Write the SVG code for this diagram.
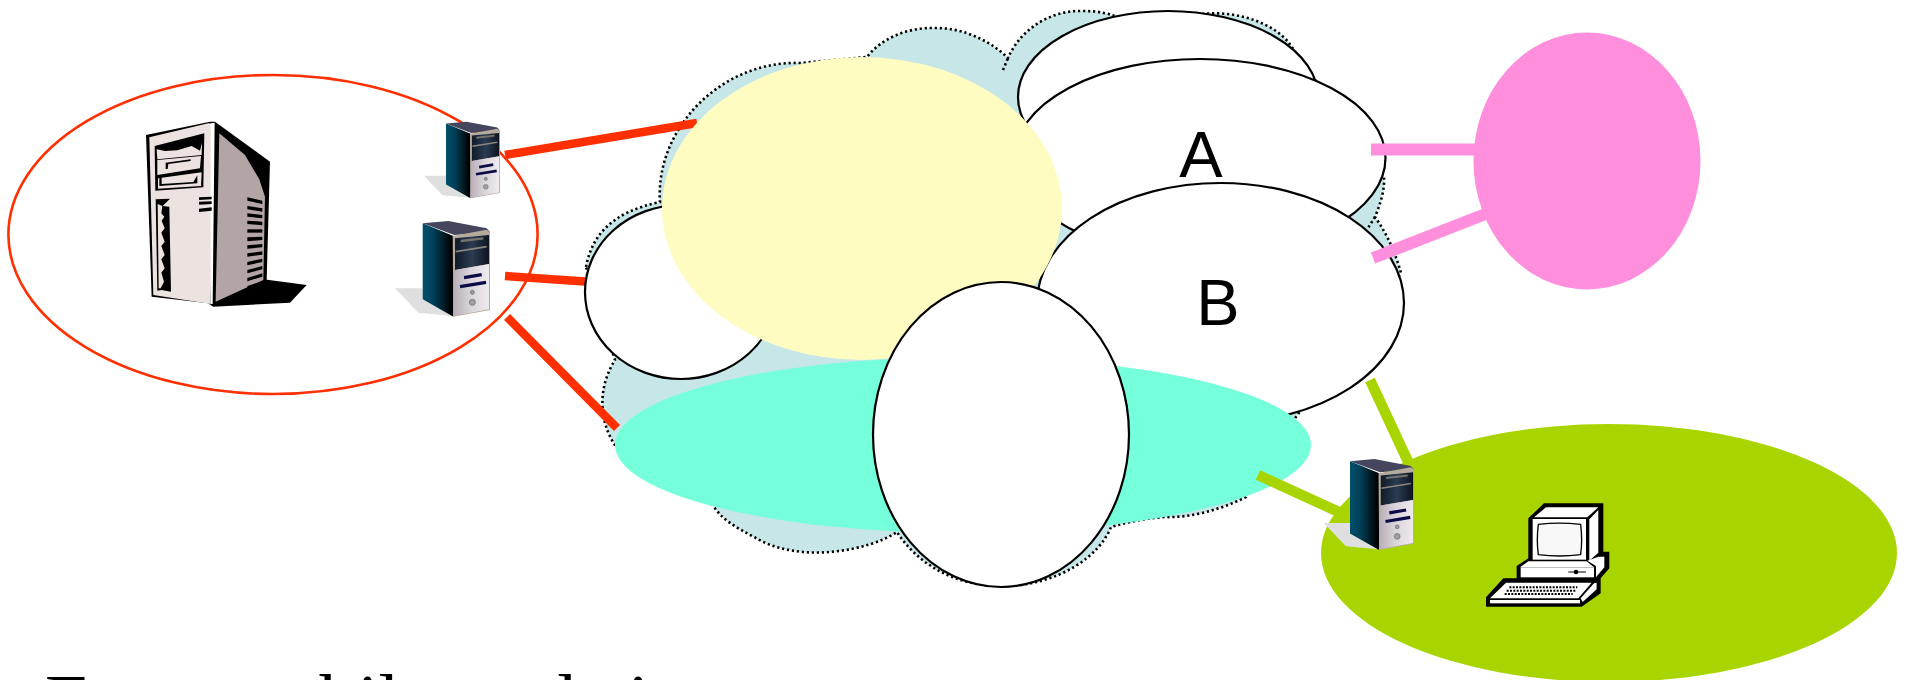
<svg xmlns="http://www.w3.org/2000/svg" width="1909" height="680" viewBox="0 0 1909 680">
<style>
.wh{fill:#fff;stroke:#000;stroke-width:2.2}
.lbl{font-family:"Liberation Sans",Arial,sans-serif;font-size:65px;fill:#000;text-anchor:middle}
.cap{font-family:"Liberation Serif","Times New Roman",serif;font-size:76px;fill:#000}
.red{stroke:#ff2f00;stroke-width:8.5;fill:none}
.pink{stroke:#ff8edc;stroke-width:12;fill:none}
.grn{stroke:#a8d500;stroke-width:10.5;fill:none}
.k{fill:#000}
.fr{fill:#ece2e0}
.sd{fill:#b3a5a5}
.w{fill:#fff}
</style>
<defs>
<linearGradient id="sideG" x1="0" x2="1" y1="0" y2="0"><stop offset="0" stop-color="#004f6b"/><stop offset=".35" stop-color="#004058"/><stop offset=".95" stop-color="#000"/></linearGradient>
<linearGradient id="panG" x1="0" x2="1" y1="0" y2="0"><stop offset="0" stop-color="#101a28"/><stop offset=".5" stop-color="#2b3b52"/><stop offset="1" stop-color="#0d1420"/></linearGradient>
<linearGradient id="frG" x1="0" x2="1" y1="0" y2="0"><stop offset="0" stop-color="#b8aeb8"/><stop offset=".5" stop-color="#dcd6dc"/><stop offset="1" stop-color="#efeaee"/></linearGradient>
<g id="tower">
<polygon fill="#dfdfdf" points="-83,202 0,202 0,235 90,285 -13,275"/>
<polygon points="0,7 77,0 192,22 202,33 95,42" fill="#45465e"/>
<polygon points="0,7 92,45 92,287 0,235" fill="url(#sideG)"/>
<polygon points="90,45 192,26 202,33 202,267 92,287" fill="#b5ab9c"/>
<polygon points="97,52 199,42 199,129 97,147" fill="url(#panG)"/>
<polygon points="96,147 199,129 199,265 92,285" fill="url(#frG)"/>
<line x1="114" y1="60" x2="182" y2="52" stroke="#77736e" stroke-width="7"/>
<line x1="99" y1="92" x2="192" y2="77" stroke="#8a8680" stroke-width="5"/>
<line x1="124" y1="170" x2="177" y2="161" stroke="#0b0b48" stroke-width="10"/>
<line x1="112" y1="197" x2="190" y2="184" stroke="#0b0b48" stroke-width="10"/>
<circle cx="149" cy="214" r="6" fill="#9c9c9c" stroke="#666" stroke-width="2"/>
<circle cx="149" cy="244" r="9" fill="#a0a0a0" stroke="#666" stroke-width="2"/>
</g>
</defs>
<g id="cloud">
<path fill="#c6e6e8" stroke="#000" stroke-width="2.6" stroke-dasharray="2.2 2.8" d="M586,267 C592,235 612,212 660,202 C655,130 720,60 801,63 L867,57 C880,40 905,27 936,28 C968,28 995,45 1008,58 C1020,30 1050,10 1082,11 C1095,11 1105,12 1120,18 L1203,14 C1240,10 1275,25 1289,43 L1384,177 C1385,190 1380,205 1375,217 C1388,235 1396,255 1401,273 L1290,425 L1246,497 C1220,510 1190,518 1165,517 C1150,518 1135,520 1111,527 C1100,555 1060,586 1001,586 C950,586 915,560 897,532 C870,550 800,565 754,537 C735,527 720,518 713,505 L617,448 C600,425 596,390 615,360 Z"/>
<path fill="none" stroke="#000" stroke-width="2.6" stroke-dasharray="2.2 2.8" d="M1003,70 L1008,58 M1375,217 L1368,228"/>
</g>
<g id="connectors">
<line class="red" x1="505" y1="155" x2="697" y2="123"/>
<line class="red" x1="505" y1="276" x2="585" y2="281.5"/>
<line class="red" x1="507" y1="317" x2="617" y2="428"/>
</g>
<g id="node-client-domain"><ellipse cx="273" cy="234.5" rx="264.6" ry="159.5" fill="none" stroke="#ff2f00" stroke-width="2.6"/></g>
<g id="node-mid-back"><ellipse class="wh" cx="1168" cy="97" rx="150" ry="86"/></g>
<g id="node-a"><ellipse class="wh" cx="1200" cy="158" rx="185.5" ry="99"/><text class="lbl" x="1201" y="177">A</text></g>
<g id="node-b"><ellipse class="wh" cx="1220.5" cy="303" rx="183.5" ry="120"/><text class="lbl" x="1218" y="325">B</text></g>
<g id="node-left"><ellipse class="wh" cx="681" cy="292" rx="96" ry="87"/></g>
<g id="node-yellow"><ellipse cx="862" cy="208.5" rx="200" ry="151.5" fill="#fffcc2"/></g>
<g id="node-teal"><ellipse cx="963" cy="445" rx="348" ry="88" fill="#75ffda"/></g>
<g id="node-center"><ellipse class="wh" cx="1001" cy="434.5" rx="128" ry="152.5"/></g>
<g id="node-pink"><ellipse cx="1587" cy="161" rx="113.5" ry="128.5" fill="#ff8edc"/></g>
<g id="node-green"><ellipse cx="1609" cy="553" rx="288" ry="129" fill="#a8d500"/></g>
<g id="connectors-right">
<line class="pink" x1="1371" y1="149.5" x2="1480" y2="149.5"/>
<line class="pink" x1="1373" y1="258" x2="1488" y2="213"/>
<line class="grn" x1="1370" y1="380" x2="1411" y2="468"/>
<line class="grn" x1="1258" y1="475" x2="1352" y2="518"/>
</g>
<g id="node-server-big" transform="translate(120,100) scale(.3333)">
<polygon class="k" points="430,538 560,555 510,608 280,620 250,600"/>
<polygon class="k" points="78,105 270,65 285,65 450,185 440,540 285,612 95,590"/>
<polygon class="sd" points="298,100 375,165 418,238 435,290 430,540 287,605"/>
<polygon class="fr" points="88,112 265,70 280,72 272,612 100,585"/>
<polygon class="w" points="272,70 284,68 278,612 272,612"/>
<polygon class="k" points="104,138 253,100 250,262 106,272"/>
<polygon class="fr" points="110,148 135,153 172,151 215,138 240,152 246,128 245,165 112,178"/>
<polygon class="fr" points="112,180 243,168 240,205 112,225"/>
<polygon class="fr" points="114,235 245,217 243,258 114,266"/>
<polygon class="k" points="137,188 212,178 212,183 145,192 143,207 137,207"/>
<polygon class="k" points="118,232 125,232 125,252 220,246 232,226 232,250 118,258"/>
<polygon class="k" points="107,298 150,296 128,318 148,320 153,575 125,570 112,572"/>
<polygon class="fr" points="113,312 127,318 124,340 133,350 125,362 134,385 124,398 134,425 124,438 134,465 124,478 134,505 124,518 132,545 122,565 116,565"/>
<g class="k">
<polygon points="237,292 275,290 275,298 237,300"/><polygon points="237,305 275,304 275,312 237,314"/><polygon points="237,326 275,322 275,332 237,336"/>
<polygon points="382,292 427,302 427,312 382,302"/><polygon points="382,318 427,325 427,335 382,328"/><polygon points="382,340 427,345 427,355 382,350"/><polygon points="382,362 427,365 427,376 382,372"/><polygon points="382,388 427,388 427,398 382,398"/><polygon points="382,412 427,410 427,420 382,424"/><polygon points="382,436 427,432 427,442 382,446"/><polygon points="382,460 427,454 427,464 382,470"/><polygon points="382,486 427,476 427,486 382,496"/><polygon points="382,510 427,498 427,508 382,520"/><polygon points="382,534 427,520 427,530 382,544"/><polygon points="382,558 427,544 427,554 382,566"/>
</g>
</g>
<g id="node-server-1"><use href="#tower" transform="translate(446,121.7) scale(.267)"/></g>
<g id="node-server-2"><use href="#tower" transform="translate(422.7,221) scale(.3333)"/></g>
<g id="node-server-3"><use href="#tower" transform="translate(1350,459) scale(.317)"/></g>
<g id="node-workstation" transform="translate(1470,490) scale(.3333)">
<polygon class="k" points="175,85 222,40 400,40 400,185 418,185 418,235 392,265 392,310 335,350 48,350 48,322 100,265 140,265 140,228 175,205"/>
<polygon class="w" points="192,82 228,52 385,52 352,82"/>
<polygon class="w" points="358,88 385,60 385,188 358,212"/>
<rect class="w" x="188" y="87" width="160" height="122"/>
<path d="M205,103 Q268,96 332,103 Q338,150 332,194 Q268,202 205,194 Q199,150 205,103 Z" fill="#f8f8f8" stroke="#000" stroke-width="4"/>
<polygon class="w" points="150,232 175,214 350,214 372,232"/>
<polygon class="w" points="352,212 385,200 403,200 403,232 378,262 378,228"/>
<rect class="w" x="152" y="232" width="220" height="30"/>
<line x1="295" y1="246" x2="348" y2="246" stroke="#000" stroke-width="3"/><circle class="k" cx="318" cy="246" r="7"/>
<polygon class="w" points="60,325 108,278 365,278 325,325"/>
<polygon class="w" points="338,336 380,298 380,278 372,280 332,325"/>
<rect class="w" x="60" y="330" width="270" height="10"/>
<g fill="none" stroke="#000" stroke-width="6" stroke-dasharray="6 4"><line x1="118" y1="292" x2="322" y2="292"/><line x1="110" y1="302" x2="316" y2="302"/><line x1="104" y1="312" x2="308" y2="312"/></g>
</g>
<text class="cap" y="727"><tspan x="45">For a mobile</tspan><tspan x="462">node</tspan><tspan x="628">in</tspan></text>
</svg>
